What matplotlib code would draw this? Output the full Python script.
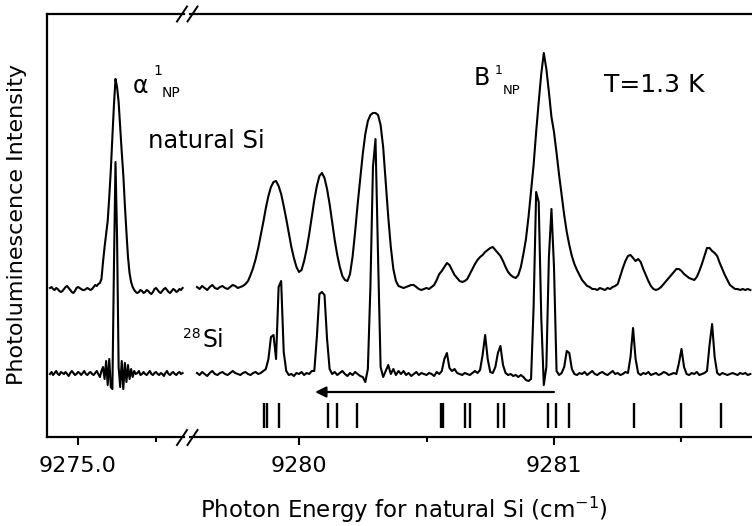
import numpy as np
import matplotlib
matplotlib.use("Agg")
import matplotlib.pyplot as plt
from matplotlib.lines import Line2D

# spectra sampled every 0.01 cm^-1, intensity in arbitrary units
step = 0.01
left_start = 9274.82
right_start = 9279.60

natural_left = [
    149, 150, 148, 147, 149, 148, 146, 145, 146, 148,
    150, 151, 149, 147, 145, 144, 146, 149, 150, 149,
    148, 147, 147, 148, 149, 148, 147, 148, 150, 152,
    151, 153, 154, 158, 175, 190, 203, 216, 240, 267,
    300, 332, 358, 350, 335, 310, 285, 262, 232, 205,
    180, 164, 155, 150, 147, 145, 144, 145, 147, 146,
    144, 145, 147, 146, 144, 143, 145, 148, 149, 147,
    145, 144, 146, 148, 149, 147, 145, 144, 146, 148,
    147, 145, 146, 148, 147, 149,
]
si28_left = [
    63, 65, 62, 64, 66, 63, 62, 65, 64, 63,
    65, 63, 61, 64, 66, 64, 62, 63, 65, 64,
    62, 64, 66, 63, 62, 64, 65, 63, 62, 64,
    66, 63, 60, 66, 70, 58, 76, 52, 78, 50,
    48, 170, 275, 200, 70, 50, 76, 48, 74, 55,
    72, 58, 68, 60, 66, 63, 64, 66, 62, 63,
    65, 63, 62, 64, 66, 63, 62, 64, 65, 63,
    62, 64, 63, 61, 64, 66, 63, 62, 64, 65,
    63, 62, 64, 65, 63, 64,
]
natural_right = [
    150, 148, 151, 149, 147, 150, 152, 149, 148, 150,   # 9279.60
    151, 149, 148, 150, 152, 151, 149, 150, 151, 153,   # 9279.70
    156, 162, 169, 178, 189, 202, 215, 229, 241, 250,   # 9279.80
    255, 256, 251, 243, 231, 218, 204, 190, 179, 170,   # 9279.90
    165, 167, 176, 188, 203, 220, 237, 251, 261, 264,   # 9280.00
    259, 248, 233, 215, 197, 182, 170, 161, 157, 156,   # 9280.10
    163, 180, 205, 233, 258, 283, 303, 316, 322, 324,   # 9280.20
    324, 322, 312, 290, 255, 220, 190, 168, 156, 151,   # 9280.30
    150, 149, 150, 151, 152, 152, 150, 148, 147, 148,   # 9280.40
    149, 148, 150, 152, 157, 163, 166, 170, 174, 172,   # 9280.50
    167, 162, 159, 156, 155, 156, 158, 163, 168, 173,   # 9280.60
    177, 180, 182, 185, 187, 189, 190, 187, 184, 181,   # 9280.70
    176, 170, 165, 162, 160, 159, 162, 170, 183, 198,   # 9280.80
    220, 246, 272, 305, 335, 363, 384, 368, 345, 320,   # 9280.90
    305, 284, 262, 242, 222, 205, 192, 181, 173, 167,   # 9281.00
    162, 157, 154, 151, 150, 148, 148, 147, 149, 148,   # 9281.10
    147, 149, 148, 150, 151, 153, 161, 169, 176, 181,   # 9281.20
    182, 179, 176, 178, 175, 168, 162, 156, 151, 148,   # 9281.30
    147, 148, 150, 153, 156, 159, 162, 165, 168, 168,   # 9281.40
    166, 163, 161, 159, 158, 157, 160, 166, 173, 181,   # 9281.50
    189, 189, 186, 184, 181, 174, 168, 162, 157, 152,   # 9281.60
    150, 148, 148, 147, 148, 147, 148, 147,             # 9281.70
]
si28_right = [
    64, 62, 65, 63, 61, 64, 66, 63, 62, 64,             # 9279.60
    65, 63, 62, 64, 66, 64, 63, 62, 64, 65,             # 9279.70
    63, 62, 64, 65, 63, 64, 66, 68, 78, 100,            # 9279.80
    102, 78, 150, 156, 85, 66, 62, 63, 61, 64,          # 9279.90
    63, 65, 62, 64, 63, 66, 66, 100, 143, 145,          # 9280.00
    142, 98, 68, 63, 65, 62, 64, 66, 63, 61,            # 9280.10
    64, 62, 65, 63, 61, 60, 55, 68, 150, 270,           # 9280.20
    298, 180, 70, 60, 66, 72, 63, 68, 62, 66,           # 9280.30
    63, 66, 62, 64, 61, 63, 65, 62, 64, 63,             # 9280.40
    62, 64, 63, 61, 65, 63, 66, 78, 84, 69,             # 9280.50
    66, 68, 64, 63, 62, 64, 63, 62, 64, 66,             # 9280.60
    64, 67, 82, 102, 78, 65, 64, 70, 84, 91,            # 9280.70
    72, 64, 62, 63, 61, 62, 60, 62, 60, 57,             # 9280.80
    56, 58, 130, 245, 235, 120, 52, 70, 180, 228,       # 9280.90
    170, 66, 62, 64, 70, 86, 84, 68, 63, 62,            # 9281.00
    64, 63, 65, 62, 64, 66, 63, 62, 64, 65,             # 9281.10
    63, 62, 64, 66, 63, 64, 62, 63, 65, 64,             # 9281.20
    80, 109, 78, 64, 62, 64, 63, 65, 62, 63,            # 9281.30
    64, 62, 63, 65, 64, 62, 63, 64, 63, 74,             # 9281.40
    88, 70, 63, 62, 64, 63, 65, 62, 63, 64,             # 9281.50
    66, 92, 113, 80, 64, 62, 64, 63, 62, 63,            # 9281.60
    64, 63, 62, 64, 63, 64, 62, 63,                     # 9281.70
]

# bars marking line positions under the spectra
line_positions = [9279.863, 9279.876, 9279.923, 9280.115, 9280.148, 9280.229,
                  9280.555, 9280.565, 9280.651, 9280.671, 9280.779, 9280.805,
                  9280.975, 9281.008, 9281.059, 9281.314, 9281.498, 9281.654]
bar_low, bar_high = 9, 34

arrow_tail = 9281.00
arrow_head = 9280.063
arrow_level = 45

W, H = 752, 526
fig = plt.figure(figsize=(W / 100, H / 100), dpi=100)


def fx(px):
    return px / W


def fy(py):
    return 1 - py / H


bottom, top = fy(437), fy(14)
ax_l = fig.add_axes([fx(47), bottom, fx(184) - fx(47), top - bottom])
ax_r = fig.add_axes([fx(190), bottom, 1 - fx(190), top - bottom])

lw = 1.5
e = left_start + step * np.arange(len(natural_left))
ax_l.plot(e, natural_left, color="k", lw=lw)
e = left_start + step * np.arange(len(si28_left))
ax_l.plot(e, si28_left, color="k", lw=lw)
e = right_start + step * np.arange(len(natural_right))
ax_r.plot(e, natural_right, color="k", lw=lw)
e = right_start + step * np.arange(len(si28_right))
ax_r.plot(e, si28_right, color="k", lw=lw)

ax_r.vlines(line_positions, bar_low, bar_high, color="k", lw=1.7)
ax_r.annotate("", xy=(arrow_head, arrow_level), xytext=(arrow_tail, arrow_level),
              arrowprops=dict(arrowstyle="-|>", color="k", lw=1.6,
                              mutation_scale=16, shrinkA=0, shrinkB=0))

ax_l.set_xlim(9274.801, 9275.679)
ax_r.set_xlim(9279.5725, 9281.7765)
for ax in (ax_l, ax_r):
    ax.set_ylim(0, 423)
    ax.set_yticks([])
    for s in ax.spines.values():
        s.set_linewidth(1.6)
    ax.tick_params(axis="x", which="major", direction="out", length=5.5,
                   width=1.5, labelsize=16, pad=8)
    ax.tick_params(axis="x", which="minor", direction="out", length=3.5,
                   width=1.5)
ax_l.spines["right"].set_visible(False)
ax_r.spines["left"].set_visible(False)
ax_r.spines["right"].set_visible(False)

ax_l.set_xticks([9275.0])
ax_l.set_xticklabels(["9275.0"])
ax_l.set_xticks([9275.5], minor=True)
ax_r.set_xticks([9280, 9281])
ax_r.set_xticklabels(["9280", "9281"])
ax_r.set_xticks([9280.5, 9281.5], minor=True)

# axis break marks
for cx in (182, 192.5):
    for cy in (14, 437.5):
        fig.add_artist(Line2D([fx(cx - 5), fx(cx + 5)], [fy(cy + 7.5), fy(cy - 7.5)],
                              transform=fig.transFigure, color="k", lw=1.4))

fig.text(fx(17), fy(225), "Photoluminescence Intensity", rotation=90,
         ha="center", va="center", fontsize=16)
fig.text(fx(404), fy(518), "Photon Energy for natural Si (cm$^{-1}$)",
         ha="center", va="baseline", fontsize=16.5)

fig.text(fx(133), fy(92.7), "\u03b1", fontsize=17, va="baseline")
fig.text(fx(153), fy(75), "1", fontsize=10, va="baseline")
fig.text(fx(162), fy(96.7), "NP", fontsize=10, va="baseline")
fig.text(fx(148), fy(148.3), "natural Si", fontsize=17.5, va="baseline")
fig.text(fx(474), fy(85), "B", fontsize=17, va="baseline")
fig.text(fx(495), fy(74), "1", fontsize=9, va="baseline")
fig.text(fx(503), fy(94), "NP", fontsize=9.5, va="baseline")
fig.text(fx(604), fy(91.7), "T=1.3 K", fontsize=18, va="baseline")
fig.text(fx(183), fy(338.3), "28", fontsize=10, va="baseline")
fig.text(fx(203), fy(347.3), "Si", fontsize=17, va="baseline")

fig.savefig("out.png", dpi=100)
